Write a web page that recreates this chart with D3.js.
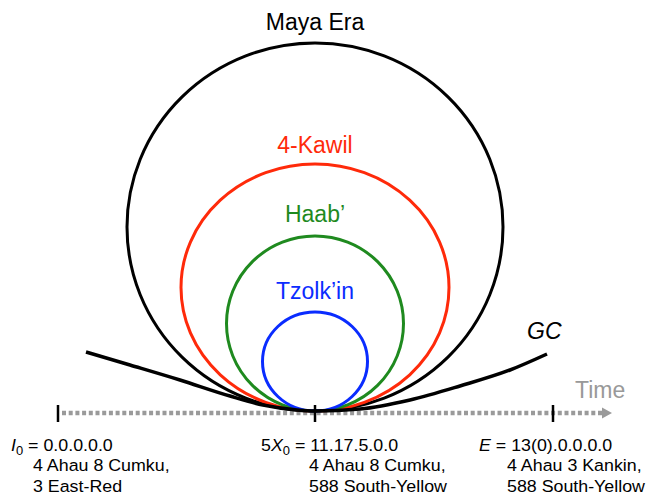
<!DOCTYPE html>
<html>
<head>
<meta charset="utf-8">
<script src="https://cdn.jsdelivr.net/npm/d3@7/dist/d3.min.js"></script>
<style>
  html, body { margin: 0; padding: 0; background: #fff; }
  svg { display: block; font-family: "Liberation Sans", Arial, Helvetica, sans-serif; }
</style>
</head>
<body>
<svg id="chart" width="648" height="498"></svg>
<script>
// ---- data (schematic units, tangent point at origin) ----
const cycleNames = ["Maya Era", "4-Kawil", "Haab\u2019", "Tzolk\u2019in"];
const cycleRx = [188, 134, 88.5, 52.5];
const cycleRy = [184, 123.5, 87.5, 49.5];
const cycleLabelY = [381, 258, 189, 112];
const cycleColors = ["#000000", "#ff2a0a", "#1f8a1f", "#0a2cff"];

const gcX = [-229, -185, -135, -85, -52, -18, 0, 45, 95, 145, 195, 232];
const gcY = [59, 46, 31, 15, 6, 1, 0, 2, 11, 25, 41, 57];

const tickX = [-257, 0, 238];
const tickLine1 = [
  [{t: "I", i: true}, {t: "0", sub: true}, {t: " = 0.0.0.0.0"}],
  [{t: "5"}, {t: "X", i: true}, {t: "0", sub: true}, {t: " = 11.17.5.0.0"}],
  [{t: "E", i: true}, {t: " = 13(0).0.0.0.0"}]
];
const tickLine2 = ["4 Ahau 8 Cumku,", "4 Ahau 8 Cumku,", "4 Ahau 3 Kankin,"];
const tickLine3 = ["3 East-Red", "588 South-Yellow", "588 South-Yellow"];
const axisRange = [-253, 297];

// ---- scales ----
const svg = d3.select("#chart");
const x = d3.scaleLinear().domain([-300, 300]).range([15, 615]);
const y = d3.scaleLinear().domain([0, 400]).range([411, 11]);

// ---- time axis ----
const axisY = y(-2);
const ax0 = x(axisRange[0]), ax1 = x(axisRange[1]);
svg.append("line")
  .attr("x1", ax0).attr("x2", ax1 - 9)
  .attr("y1", axisY).attr("y2", axisY)
  .attr("stroke", "#9a9a9a").attr("stroke-width", 4.5)
  .attr("stroke-dasharray", "4,2.7");
svg.append("path")
  .attr("d", `M${ax1 - 10},${axisY - 5.5} L${ax1},${axisY} L${ax1 - 10},${axisY + 5.5} Z`)
  .attr("fill", "#9a9a9a");
svg.append("text")
  .attr("x", x(260)).attr("y", 398)
  .attr("font-size", 23).attr("fill", "#999")
  .text("Time");

// ---- cycles ----
cycleNames.forEach((name, k) => {
  const rx = cycleRx[k], ry = cycleRy[k];
  svg.append("ellipse")
    .attr("cx", x(0)).attr("cy", y(ry))
    .attr("rx", x(rx) - x(0)).attr("ry", y(0) - y(ry))
    .attr("fill", "none").attr("stroke", cycleColors[k]).attr("stroke-width", 3);
  svg.append("text")
    .attr("x", x(0)).attr("y", y(cycleLabelY[k]))
    .attr("text-anchor", "middle")
    .attr("font-size", 23).attr("fill", cycleColors[k])
    .text(name);
});

// ---- GC curve ----
const gcPts = gcX.map((d, i) => [x(d), y(gcY[i])]);
svg.append("path")
  .attr("d", d3.line().curve(d3.curveMonotoneX)(gcPts))
  .attr("fill", "none").attr("stroke", "#000").attr("stroke-width", 3.5);
svg.append("text")
  .attr("x", x(212)).attr("y", 339)
  .attr("font-size", 23).attr("font-style", "italic")
  .text("GC");

// ---- ticks and labels ----
const line1X = [11, 261, 479];
const indentX = [33, 309, 507];
const baseY = [450.5, 471, 491.5];
const fs = 16.5, sx = 1.08;
function stretched(xp, yp) {
  return svg.append("text")
    .attr("transform", `translate(${xp},${yp}) scale(${sx},1)`)
    .attr("font-size", fs);
}
tickX.forEach((tx, k) => {
  svg.append("line")
    .attr("x1", x(tx)).attr("x2", x(tx))
    .attr("y1", axisY - 8).attr("y2", axisY + 9)
    .attr("stroke", "#000").attr("stroke-width", 2.5);
  const t1 = stretched(line1X[k], baseY[0]);
  tickLine1[k].forEach(seg => {
    const ts = t1.append("tspan").text(seg.t);
    if (seg.i) ts.attr("font-style", "italic");
    if (seg.sub) ts.attr("font-size", 12).attr("dy", 4);
    else if (seg.t.startsWith(" ") && tickLine1[k].some(s => s.sub)) ts.attr("dy", -4);
  });
  stretched(indentX[k], baseY[1]).text(tickLine2[k]);
  stretched(indentX[k], baseY[2]).text(tickLine3[k]);
});
</script>
</body>
</html>
